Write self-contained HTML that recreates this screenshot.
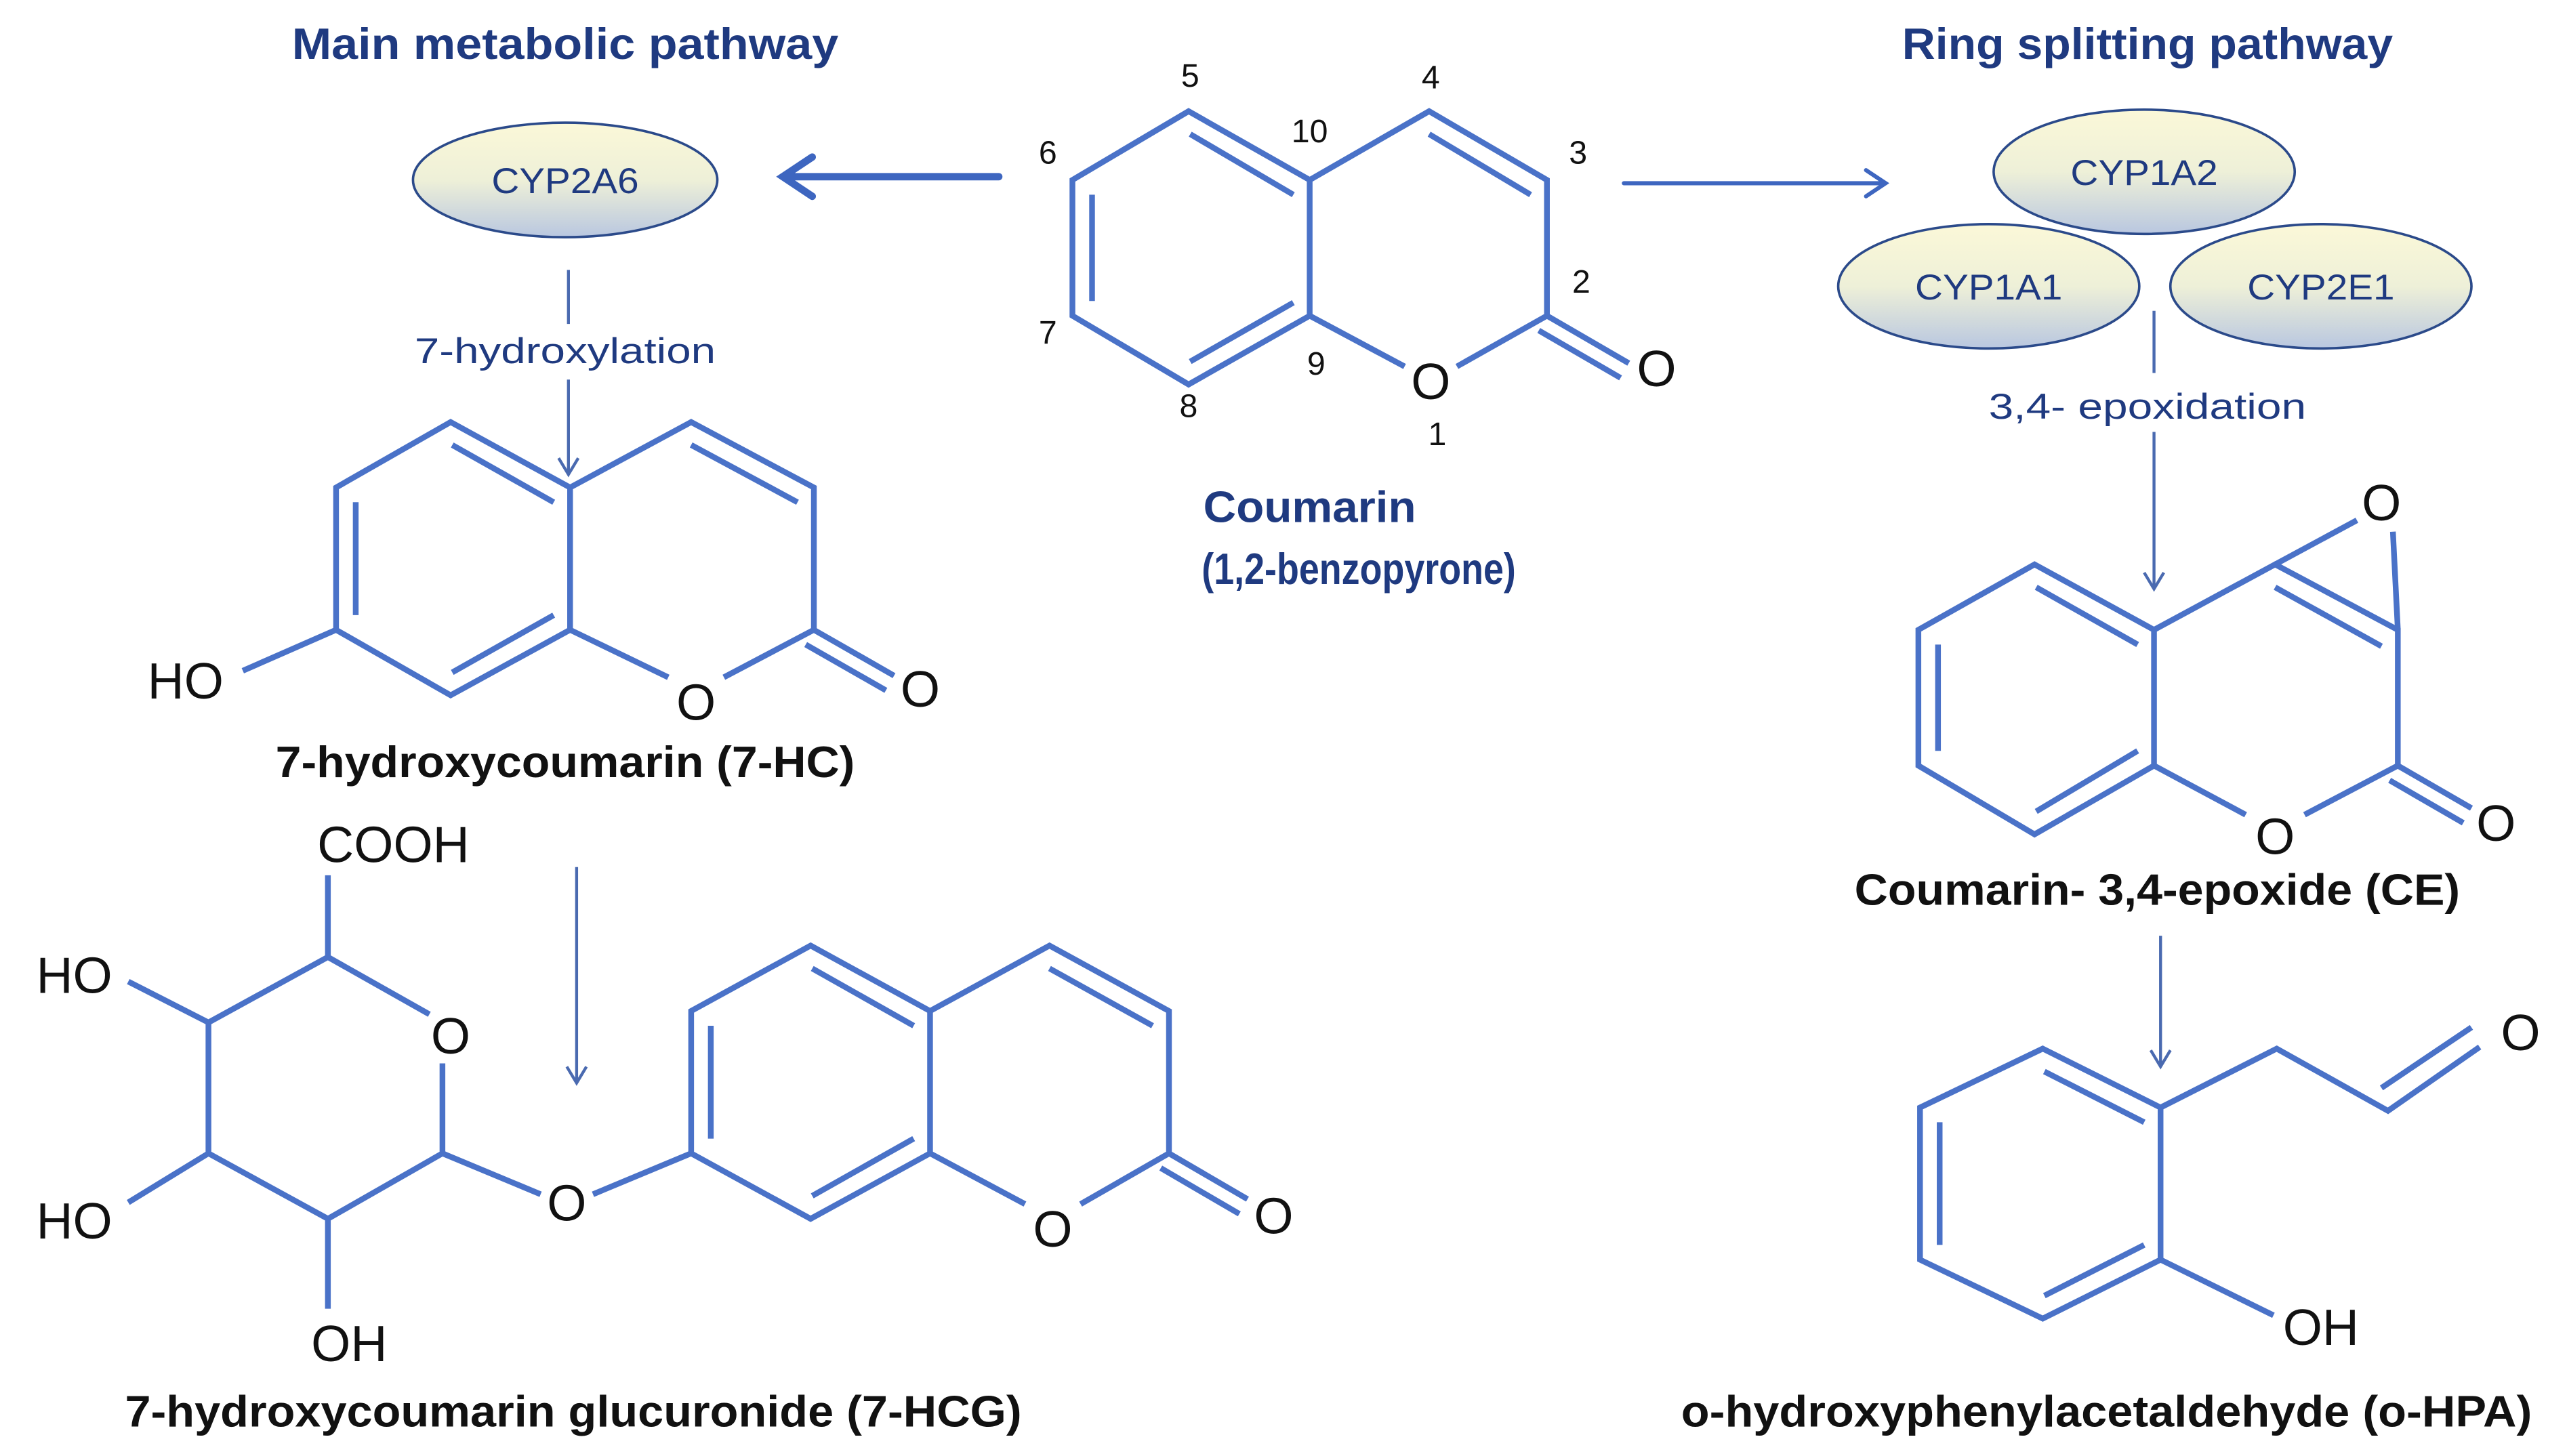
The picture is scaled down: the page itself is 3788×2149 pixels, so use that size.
<!DOCTYPE html>
<html><head><meta charset="utf-8"><style>
html,body{margin:0;padding:0;background:#fff;}
svg{display:block;}
</style></head><body>
<svg width="3788" height="2149" viewBox="0 0 1568 890" xmlns="http://www.w3.org/2000/svg">
<defs>
<linearGradient id="g" x1="0" y1="0" x2="0" y2="1">
<stop offset="0" stop-color="#fbf8d8"/><stop offset="0.5" stop-color="#eef0d8"/><stop offset="1" stop-color="#b9c7e0"/>
</linearGradient>
</defs>
<rect width="1568" height="890" fill="#fff"/>
<g font-family="Liberation Sans, sans-serif" fill="#1f3a80" font-weight="bold" font-size="27" text-anchor="middle" lengthAdjust="spacingAndGlyphs">
<text x="345" y="36" textLength="334" lengthAdjust="spacingAndGlyphs">Main metabolic pathway</text>
<text x="1312" y="36" textLength="300" lengthAdjust="spacingAndGlyphs">Ring splitting pathway</text>
<text x="800" y="319" textLength="130" lengthAdjust="spacingAndGlyphs">Coumarin</text>
<text x="830" y="357" textLength="192" lengthAdjust="spacingAndGlyphs">(1,2-benzopyrone)</text>
</g>
<g font-family="Liberation Sans, sans-serif" fill="#111" font-weight="bold" font-size="27" text-anchor="middle">
<text x="345" y="475" textLength="354" lengthAdjust="spacingAndGlyphs">7-hydroxycoumarin (7-HC)</text>
<text x="350" y="872" textLength="548" lengthAdjust="spacingAndGlyphs">7-hydroxycoumarin glucuronide (7-HCG)</text>
<text x="1318" y="553" textLength="370" lengthAdjust="spacingAndGlyphs">Coumarin- 3,4-epoxide (CE)</text>
<text x="1287" y="872" textLength="520" lengthAdjust="spacingAndGlyphs">o-hydroxyphenylacetaldehyde (o-HPA)</text>
</g>
<g stroke="#2b4a8a" stroke-width="1.5" fill="url(#g)">
<ellipse cx="345" cy="110" rx="93" ry="35"/>
<ellipse cx="1310" cy="105" rx="92" ry="38"/>
<ellipse cx="1215" cy="175" rx="92" ry="38"/>
<ellipse cx="1418" cy="175" rx="92" ry="38"/>
</g>
<g font-family="Liberation Sans, sans-serif" fill="#1f3a80" font-size="22" text-anchor="middle">
<text x="345" y="118" textLength="90" lengthAdjust="spacingAndGlyphs">CYP2A6</text>
<text x="1310" y="113" textLength="90" lengthAdjust="spacingAndGlyphs">CYP1A2</text>
<text x="1215" y="183" textLength="90" lengthAdjust="spacingAndGlyphs">CYP1A1</text>
<text x="1418" y="183" textLength="90" lengthAdjust="spacingAndGlyphs">CYP2E1</text>
<text x="345" y="222" textLength="184" lengthAdjust="spacingAndGlyphs">7-hydroxylation</text>
<text x="1312" y="256" textLength="194" lengthAdjust="spacingAndGlyphs">3,4- epoxidation</text>
</g>
<g stroke="#3e66c0" fill="none" stroke-linecap="round">
<path d="M610 108 L478 108 M496 96 L478 108 L496 120" stroke-width="4.5"/>
<path d="M992 112 L1152 112 M1140 104 L1152 112 L1140 120" stroke-width="2.5"/>
</g>
<g stroke="#4a6ab0" fill="none" stroke-width="1.8">
<path d="M347 165 L347 198 M347 232 L347 290 M341 280 L347 290 L353 280"/>
<path d="M1316 190 L1316 228 M1316 264 L1316 360 M1310 350 L1316 360 L1322 350"/>
<path d="M352 530 L352 662 M346 652 L352 662 L358 652"/>
<path d="M1320 572 L1320 652 M1314 642 L1320 652 L1326 642"/>
</g>
<g stroke="#4a72c8" stroke-width="3.5" fill="none" stroke-linejoin="miter">
<path d="M726 68 L800 110 L800 193 L726 235 L655 193 L655 110 Z"/>
<path d="M727 82 L790 119 M667 119 L667 184 M727 221 L790 185"/>
<path d="M800 110 L873 68 L945 110 L945 193 L890 224 M858 224 L800 193"/>
<path d="M873 82 L935 119"/>
<path d="M945 193 L995 222 M940 202 L990 231"/>
<path d="M275 258 L348 298 L348 385 L275 425 L205 385 L205 298 Z"/>
<path d="M276 272 L338 307 M217 307 L217 376 M276 411 L338 376"/>
<path d="M348 298 L422 258 L497 298 L497 385 L442 414 M408 414 L348 385"/>
<path d="M422 272 L487 307"/>
<path d="M497 385 L546 413 M492 394 L541 422"/>
<path d="M205 385 L148 410"/>
<path d="M495 578 L568 618 L568 705 L495 745 L422 705 L422 618 Z"/>
<path d="M496 592 L558 627 M434 627 L434 696 M496 731 L558 696"/>
<path d="M568 618 L641 578 L714 618 L714 705 L660 736 M626 736 L568 705"/>
<path d="M641 592 L704 627"/>
<path d="M714 705 L762 733 M709 714 L757 742"/>
<path d="M422 705 L362 730 M330 730 L270 705"/>
<path d="M262 620 L200 585 L127 625 L127 705 L200 745 L270 705 L270 650"/>
<path d="M200 585 L200 535 M127 625 L78 600 M127 705 L78 735 M200 745 L200 800"/>
<path d="M1243 345 L1316 385 L1316 468 L1243 510 L1172 468 L1172 385 Z"/>
<path d="M1244 359 L1306 394 M1184 394 L1184 459 M1244 496 L1306 459"/>
<path d="M1316 385 L1390 345 L1465 385 L1465 468 L1408 498 M1372 498 L1316 468"/>
<path d="M1390 359 L1455 395"/>
<path d="M1390 345 L1440 318 M1465 385 L1462 325"/>
<path d="M1465 468 L1510 494 M1460 477 L1505 503"/>
<path d="M1248 641 L1320 677 L1320 770 L1248 806 L1173 770 L1173 677 Z"/>
<path d="M1249 655 L1310 686 M1185 686 L1185 761 M1249 792 L1310 761"/>
<path d="M1320 677 L1391 641 L1459 679 L1515 640 M1455 665 L1510 628"/>
<path d="M1320 770 L1389 804"/>
</g>
<g font-family="Liberation Sans, sans-serif" fill="#111" font-size="31" text-anchor="middle">
<text x="874" y="244">O</text>
<text x="1012" y="236">O</text>
<text x="425" y="440">O</text>
<text x="562" y="432">O</text>
<text x="113" y="427">HO</text>
<text x="643" y="762">O</text>
<text x="778" y="754">O</text>
<text x="346" y="746">O</text>
<text x="275" y="644">O</text>
<text x="240" y="527">COOH</text>
<text x="45" y="607">HO</text>
<text x="45" y="757">HO</text>
<text x="213" y="832">OH</text>
<text x="1390" y="522">O</text>
<text x="1525" y="514">O</text>
<text x="1455" y="318">O</text>
<text x="1540" y="642">O</text>
<text x="1418" y="822">OH</text>
</g>
<g font-family="Liberation Sans, sans-serif" fill="#111" font-size="20" text-anchor="middle">
<text x="727" y="53">5</text>
<text x="874" y="54">4</text>
<text x="800" y="87">10</text>
<text x="964" y="100">3</text>
<text x="640" y="100">6</text>
<text x="966" y="179">2</text>
<text x="640" y="210">7</text>
<text x="804" y="229">9</text>
<text x="726" y="255">8</text>
<text x="878" y="272">1</text>
</g>
</svg>
</body></html>
